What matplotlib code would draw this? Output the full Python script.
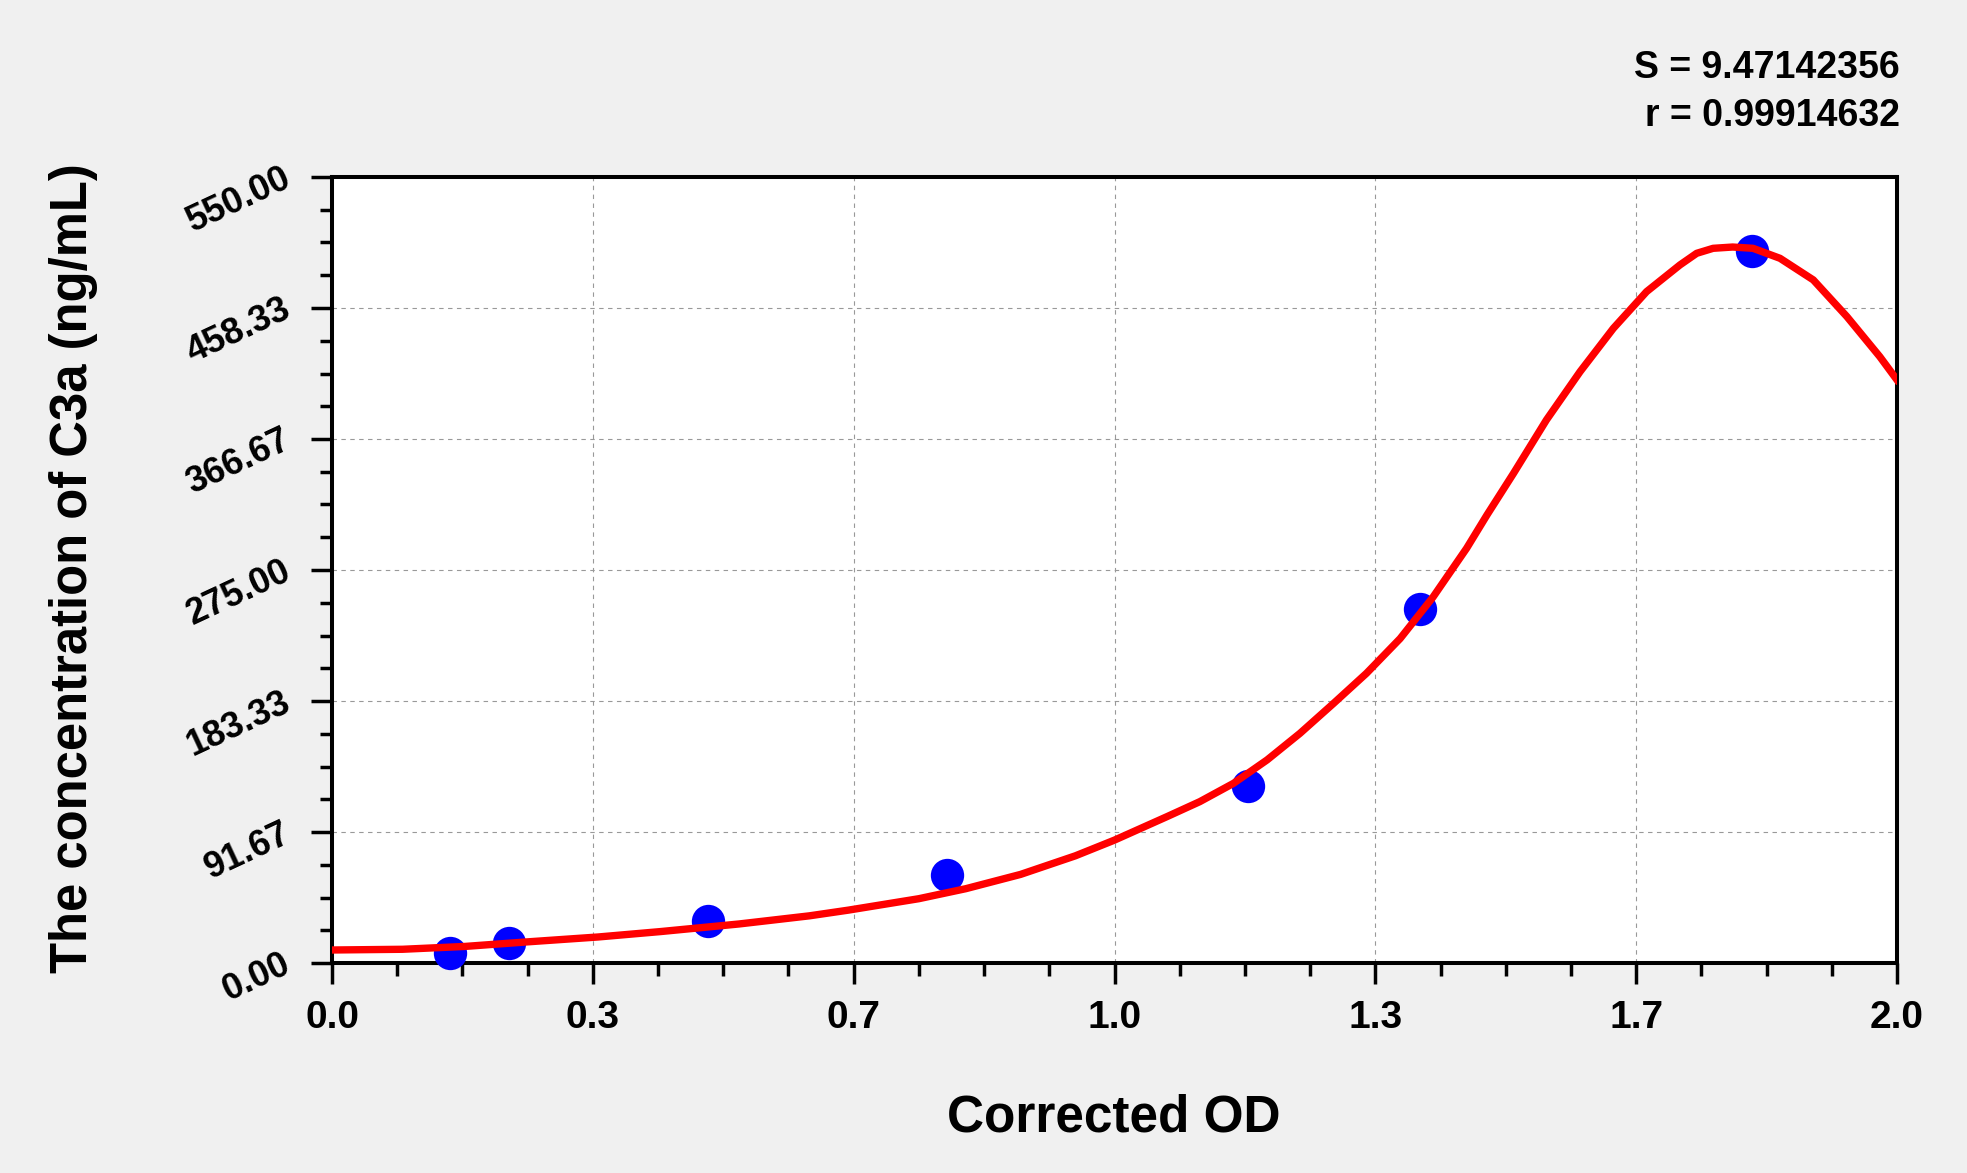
import numpy as np
import matplotlib
matplotlib.use("Agg")
import matplotlib.pyplot as plt
from matplotlib import font_manager

# --- standard points ---
od_points   = [0.151, 0.226, 0.481, 0.786, 1.170, 1.391, 1.815]
conc_points = [6.8, 13.8, 29.4, 61.3, 123.9, 247.7, 498.3]

# --- fitted curve ---
curve_od = [0.00, 0.09, 0.17, 0.25, 0.34, 0.42, 0.52, 0.61, 0.66, 0.75,
            0.81, 0.88, 0.95, 1.00, 1.067, 1.109, 1.152, 1.195, 1.237, 1.28,
            1.322, 1.365, 1.407, 1.45, 1.476, 1.51, 1.552, 1.595, 1.6375, 1.68,
            1.7227, 1.744, 1.765, 1.79, 1.816, 1.8505, 1.893, 1.936, 1.978, 2.00]
curve_conc = [9.1, 9.6, 11.6, 14.8, 18.2, 22.0, 27.3, 33.0, 37.0, 45.0,
              52.0, 62.0, 75.0, 86.0, 102.4, 112.9, 125.7, 142.1, 160.7, 181.7,
              202.7, 227.0, 256.0, 290.2, 313.5, 342.7, 380.0, 413.8, 444.1, 469.8,
              488.5, 496.6, 500.1, 501.0, 500.1, 493.1, 478.0, 452.3, 424.3, 408.0]

x_ticks  = [0.0, 1/3, 2/3, 1.0, 4/3, 5/3, 2.0]
x_labels = ["0.0", "0.3", "0.7", "1.0", "1.3", "1.7", "2.0"]
y_ticks  = [0.0, 91.67, 183.33, 275.0, 366.67, 458.33, 550.0]
y_labels = ["0.00", "91.67", "183.33", "275.00", "366.67", "458.33", "550.00"]

S_VALUE = "9.47142356"
R_VALUE = "0.99914632"

W, H = 1967, 1173
DPI  = 100

installed = {f.name for f in font_manager.fontManager.ttflist}
NARROW = "Liberation Sans Narrow" if "Liberation Sans Narrow" in installed else "Liberation Sans"
WIDE   = "Liberation Sans"

BG = "#f0f0f0"

fig = plt.figure(figsize=(W / DPI, H / DPI), dpi=DPI, facecolor=BG)
ax = fig.add_axes([332 / W, 1 - 963 / H, (1897 - 332) / W, (963 - 177) / H])
ax.set_facecolor("white")

ax.plot(od_points, conc_points, "o", color="#0000ff", markersize=24,
        markeredgewidth=0, clip_on=False, zorder=3)
ax.plot(curve_od, curve_conc, "-", color="#ff0000", lw=5.3,
        solid_joinstyle="round", zorder=4)

ax.set_xlim(0, 2)
ax.set_ylim(0, 550)

ax.set_xticks(x_ticks)
ax.set_xticklabels(x_labels, fontfamily=NARROW, fontweight="bold", fontsize=28)
ax.set_xticks(np.arange(0, 2.0001, 1 / 12), minor=True)
ax.set_yticks(y_ticks)
ax.set_yticklabels(y_labels, fontfamily=WIDE, fontweight="bold", fontsize=26,
                   rotation=25, rotation_mode="anchor", ha="right", va="center")
ax.set_yticks(np.arange(0, 550.001, 550 / 24), minor=True)

ax.tick_params(axis="both", which="major", direction="out", length=15,
               width=2.5, color="black")
ax.tick_params(axis="both", which="minor", direction="out", length=9,
               width=2.5, color="black")
ax.tick_params(axis="x", which="major", pad=12)
ax.tick_params(axis="y", which="major", pad=16)

for sp in ax.spines.values():
    sp.set_linewidth(2.9)
    sp.set_color("black")

ax.grid(True, which="major", color="#999999", lw=0.8, linestyle=(0, (4, 4)))
ax.set_axisbelow(True)

fig.text(1114 / W, 1 - 1132 / H, "Corrected OD", ha="center", va="baseline",
         fontfamily=NARROW, fontweight="bold", fontsize=37)
fig.text(74 / W, 1 - 568 / H, "The concentration of C3a (ng/mL)", rotation=90,
         ha="center", va="center", fontfamily=WIDE, fontweight="bold", fontsize=36.5)

fig.text(1900 / W, 1 - 78 / H, f"S = {S_VALUE}", ha="right", va="baseline",
         fontfamily=NARROW, fontweight="bold", fontsize=27)
fig.text(1900 / W, 1 - 126 / H, f"r = {R_VALUE}", ha="right", va="baseline",
         fontfamily=NARROW, fontweight="bold", fontsize=27)

fig.savefig("out.png", dpi=DPI, facecolor=BG)
